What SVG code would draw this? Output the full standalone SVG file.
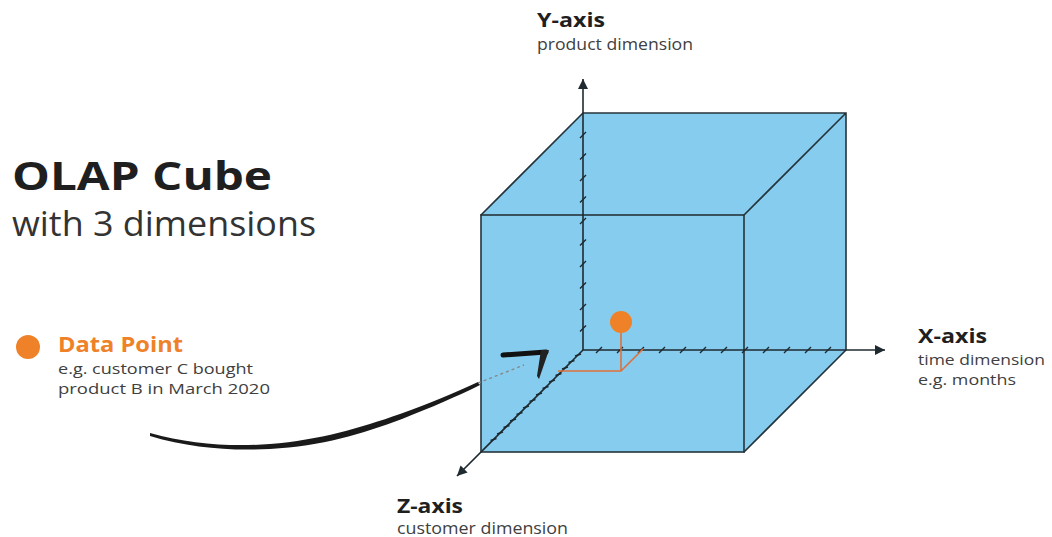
<svg xmlns="http://www.w3.org/2000/svg" width="1052" height="537" viewBox="0 0 1052 537">
  <style>
    .h { font-family: "Open Sans", "Liberation Sans", sans-serif; font-weight: 700; fill: #1f1f1f; }
    .s { font-family: "Open Sans", "Liberation Sans", sans-serif; font-weight: 400; fill: #404040; }
    .edge { stroke: #25343a; stroke-width: 1.6; fill: none; stroke-linecap: round; }
    .axis { stroke: #1e2a30; stroke-width: 1.6; fill: none; }
    .tick { stroke: #1e2a30; stroke-width: 1.4; fill: none; }
    .or { stroke: #e0703a; stroke-width: 1.6; fill: none; }
  </style>
  <defs>
    <marker id="ah" viewBox="0 0 10 10" refX="10" refY="5" markerWidth="10" markerHeight="10" markerUnits="userSpaceOnUse" orient="auto">
      <path d="M0,0 L10,5 L0,10 z" fill="#1e2a30"/>
    </marker>
  </defs>
  <rect width="1052" height="537" fill="#ffffff"/>

  <g id="title">
    <text class="h" x="12" y="190" font-size="40" textLength="260" lengthAdjust="spacingAndGlyphs">OLAP Cube</text>
    <text class="s" x="12" y="236" font-size="35" textLength="304" lengthAdjust="spacingAndGlyphs" style="fill:#333">with 3 dimensions</text>
  </g>

  <g id="legend">
    <circle cx="28" cy="347" r="12" fill="#ef8228"/>
    <text class="h" x="58" y="352" font-size="21" textLength="125" lengthAdjust="spacingAndGlyphs" style="fill:#ef8228">Data Point</text>
    <text class="s" x="58" y="374" font-size="15" textLength="195" lengthAdjust="spacingAndGlyphs">e.g. customer C bought</text>
    <text class="s" x="58" y="393.5" font-size="15" textLength="212" lengthAdjust="spacingAndGlyphs">product B in March 2020</text>
  </g>

  <g id="cube">
    <path d="M583,113 L846,113 L846,350 L744,452 L481,452 L481,215 Z" fill="#86ccef"/>
    <rect class="edge" x="481" y="215" width="263" height="237"/>
    <path class="edge" d="M583,113 L846,113 L846,350 M583,113 L481,215 M846,113 L744,215 M846,350 L744,452"/>
  </g>

  <g id="connectors">
    <line class="axis" x1="583" y1="350" x2="583" y2="79" marker-end="url(#ah)"/>
    <line class="axis" x1="583" y1="350" x2="885" y2="350" marker-end="url(#ah)"/>
    <line class="axis" x1="583" y1="350" x2="457" y2="476" marker-end="url(#ah)"/>
    <g class="tick">
      <path d="M580,138 L586,132 M580,159.5 L586,153.5 M580,181 L586,175 M580,202.5 L586,196.5 M580,224 L586,218 M580,245.5 L586,239.5 M580,267 L586,261 M580,288.5 L586,282.5 M580,310 L586,304 M580,331.5 L586,325.5"/>
      <path d="M596,353 L602,347 M617,353 L623,347 M638,353 L644,347 M659,353 L665,347 M680,353 L686,347 M700,353 L706,347 M721,353 L727,347 M742,353 L748,347 M763,353 L769,347 M784,353 L790,347 M805,353 L811,347 M825,353 L831,347"/>
      <path d="M575,356 L581,354 M568.5,362.5 L574.5,360.5 M562,369 L568,367 M555.5,375.5 L561.5,373.5 M549,382 L555,380 M542.5,388.5 L548.5,386.5 M536,395 L542,393 M529.5,401.5 L535.5,399.5 M523,408 L529,406 M516.5,414.5 L522.5,412.5 M510,421 L516,419 M503.5,427.5 L509.5,425.5 M497,434 L503,432 M490.5,440.5 L496.5,438.5"/>
    </g>
  </g>

  <g id="datapoint">
    <path class="or" d="M621,333 L621,371 M558,371 L621,371 L643,349"/>
    <circle cx="621" cy="322" r="11" fill="#ef8228"/>
  </g>

  <g id="brush-arrow">
    <path d="M150,433 C190,444 230,447 270,444 C320,440 360,428 400,414 C430,403 455,393 478,382 L480,385 C456,397 432,407 402,419 C362,434 322,446 270,449 C230,451 190,448 150,436 Z" fill="#1a1a1a"/>
    <path d="M478,383 L524,365" stroke="#888" stroke-width="1.4" stroke-dasharray="3 3" fill="none"/>
    <path d="M503,355 L546,352" stroke="#111" stroke-width="5" fill="none" stroke-linecap="round"/>
    <path d="M541,350 L549,350 L539,379 L537,376 Z" fill="#222"/>
  </g>

  <g id="y-label">
    <text class="h" x="537" y="27" font-size="20" textLength="68" lengthAdjust="spacingAndGlyphs">Y-axis</text>
    <text class="s" x="537" y="50" font-size="15.5" textLength="156" lengthAdjust="spacingAndGlyphs">product dimension</text>
  </g>
  <g id="x-label">
    <text class="h" x="918" y="343" font-size="20" textLength="69" lengthAdjust="spacingAndGlyphs">X-axis</text>
    <text class="s" x="918" y="365" font-size="15" textLength="127" lengthAdjust="spacingAndGlyphs">time dimension</text>
    <text class="s" x="918" y="384.5" font-size="15" textLength="98" lengthAdjust="spacingAndGlyphs">e.g. months</text>
  </g>
  <g id="z-label">
    <text class="h" x="397" y="513" font-size="20" textLength="66" lengthAdjust="spacingAndGlyphs">Z-axis</text>
    <text class="s" x="397" y="533.5" font-size="15.5" textLength="171" lengthAdjust="spacingAndGlyphs">customer dimension</text>
  </g>
</svg>
